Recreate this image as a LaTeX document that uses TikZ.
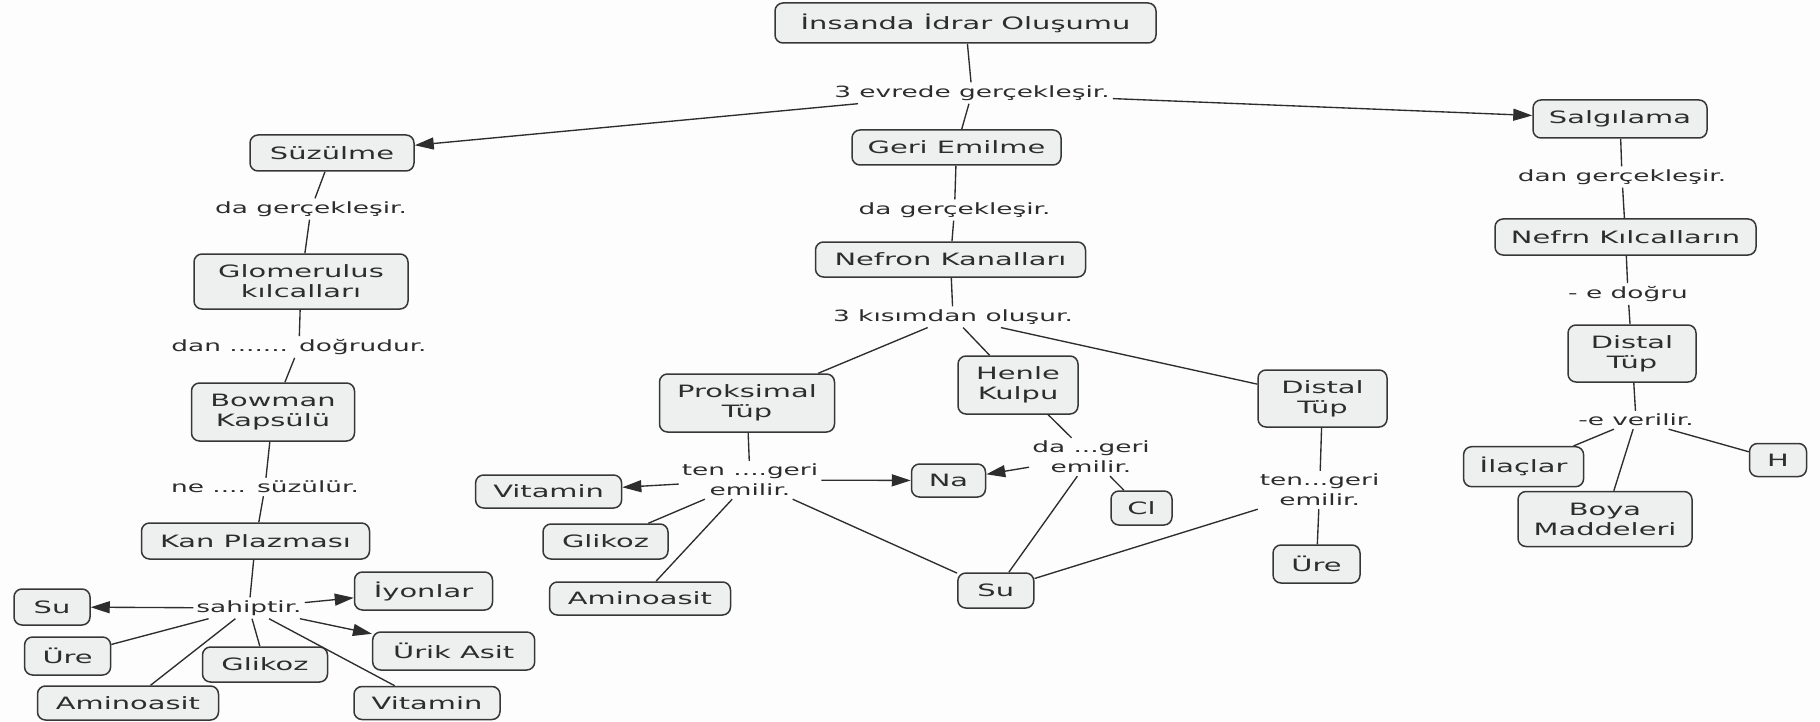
\documentclass[tikz,border=0pt]{standalone}
\usepackage{fontspec}
\setmainfont{DejaVu Sans}[FakeStretch=1.7]
\usetikzlibrary{arrows.meta}
\definecolor{boxfill}{RGB}{238,240,240}
\definecolor{boxdraw}{RGB}{55,55,55}
\definecolor{ink}{RGB}{45,45,45}
\definecolor{bg}{RGB}{253,253,254}
\tikzset{
 concept/.style={draw=boxdraw, fill=boxfill, line width=1.5pt, rounded corners=8pt, align=center, text=ink, font=\fontsize{17}{20}\selectfont, inner sep=0pt},
 lbl/.style={align=center, text=ink, font=\fontsize{15.5}{20}\selectfont, inner sep=3pt},
 conn/.style={draw=ink, line width=1.35pt},
 arr/.style={conn, -{Triangle[length=19pt,width=12pt]}},
}
\newcommand{\cnode}[5]{\node[concept, minimum width=#3pt, minimum height=#4pt] (#1) at (#2) {#5};}
\begin{document}
\begin{tikzpicture}[x=1pt,y=-1pt]
\fill[bg] (0,0) rectangle (1820,722);
\useasboundingbox (0,0) rectangle (1820,722);
% concepts
\cnode{title}{965.5,23}{381}{40}{İnsanda İdrar Oluşumu}
\cnode{suz}{332,153}{164}{36}{Süzülme}
\cnode{geri}{956.5,147.5}{209}{35}{Geri Emilme}
\cnode{salg}{1620,119}{174}{38}{Salgılama}
\cnode{glom}{301,281.5}{214}{55}{Glomerulus\\kılcalları}
\cnode{bow}{273,412}{163}{58}{Bowman\\Kapsülü}
\cnode{kan}{255.5,541}{228}{36}{Kan Plazması}
\cnode{suA}{52,607}{76}{36}{Su}
\cnode{ureA}{67.6,656}{86}{38}{Üre}
\cnode{aminoA}{128,703}{181}{34}{Aminoasit}
\cnode{glikA}{265,664.5}{125}{35}{Glikoz}
\cnode{vitA}{427,703}{146}{33}{Vitamin}
\cnode{iyon}{423.5,591}{138}{38}{İyonlar}
\cnode{urik}{453.7,651}{162}{38}{Ürik Asit}
\cnode{nef}{950.5,259.5}{270}{35}{Nefron Kanalları}
\cnode{prok}{747,403}{175}{58}{Proksimal\\Tüp}
\cnode{henle}{1018,385}{120}{58}{Henle\\Kulpu}
\cnode{distA}{1322.5,398.5}{129}{57}{Distal\\Tüp}
\cnode{vitB}{548.6,491.5}{146}{33}{Vitamin}
\cnode{glikB}{605.5,541.5}{125}{35}{Glikoz}
\cnode{aminoB}{640,598.5}{181}{33}{Aminoasit}
\cnode{na}{948.5,480.5}{74}{33}{Na}
\cnode{suB}{995.8,590.5}{76}{35}{Su}
\cnode{cl}{1141.5,508}{61}{34}{Cl}
\cnode{ureB}{1316.5,564}{87}{38}{Üre}
\cnode{nefk}{1625.5,237}{261}{36}{Nefrn Kılcalların}
\cnode{distB}{1632,353.5}{128}{57}{Distal\\Tüp}
\cnode{ilac}{1523.6,466.7}{120}{40}{İlaçlar}
\cnode{boya}{1605,519}{174}{55}{Boya\\Maddeleri}
\cnode{h}{1778,460}{57}{33}{H}
% linking phrases
\node[lbl] (l1) at (972,93) {3 evrede gerçekleşir.};
\node[lbl] (l2) at (311,209) {da gerçekleşir.};
\node[lbl] (l3) at (299,347) {dan ....... doğrudur.};
\node[lbl] (l4) at (265,487) {ne .... süzülür.};
\node[lbl] (l5) at (249,608) {sahiptir.};
\node[lbl] (l6) at (954.5,210) {da gerçekleşir.};
\node[lbl] (l7) at (953,317) {3 kısımdan oluşur.};
\node[lbl] (l8) at (750,480) {ten ....geri\\emilir.};
\node[lbl] (l9) at (1091,457) {da ...geri\\emilir.};
\node[lbl] (l10) at (1319.6,490) {ten...geri\\emilir.};
\node[lbl] (l11) at (1622,177) {dan gerçekleşir.};
\node[lbl] (l12) at (1628,294) {- e doğru};
\node[lbl] (l13) at (1636,420) {-e verilir.};
% connectors
\draw[conn] (title) -- (l1);
\draw[arr] (l1) -- (suz);
\draw[conn] (l1) -- (geri);
\draw[arr] (l1) -- (salg);
\draw[conn] (suz) -- (l2);
\draw[conn] (l2) -- (glom);
\draw[conn] (glom) -- (l3);
\draw[conn] (l3) -- (bow);
\draw[conn] (bow) -- (l4);
\draw[conn] (l4) -- (kan);
\draw[conn] (kan) -- (l5);
\draw[arr] (l5) -- (suA);
\draw[conn] (l5) -- (ureA);
\draw[conn] (l5) -- (aminoA);
\draw[conn] (l5) -- (glikA);
\draw[conn] (l5) -- (vitA);
\draw[arr] (l5) -- (iyon);
\draw[arr] (l5) -- (urik);
\draw[conn] (geri) -- (l6);
\draw[conn] (l6) -- (nef);
\draw[conn] (nef) -- (l7);
\draw[conn] (l7) -- (prok);
\draw[conn] (l7) -- (henle);
\draw[conn] (l7) -- (distA);
\draw[conn] (prok) -- (l8);
\draw[arr] (l8) -- (vitB);
\draw[conn] (l8) -- (glikB);
\draw[conn] (l8) -- (aminoB);
\draw[arr] (l8) -- (na);
\draw[conn] (l8) -- (suB);
\draw[conn] (henle) -- (l9);
\draw[arr] (l9) -- (na);
\draw[conn] (l9) -- (suB);
\draw[conn] (l9) -- (cl);
\draw[conn] (distA) -- (l10);
\draw[conn] (l10) -- (suB);
\draw[conn] (l10) -- (ureB);
\draw[conn] (salg) -- (l11);
\draw[conn] (l11) -- (nefk);
\draw[conn] (nefk) -- (l12);
\draw[conn] (l12) -- (distB);
\draw[conn] (distB) -- (l13);
\draw[conn] (l13) -- (ilac);
\draw[conn] (l13) -- (boya);
\draw[conn] (l13) -- (h);
\end{tikzpicture}
\end{document}
